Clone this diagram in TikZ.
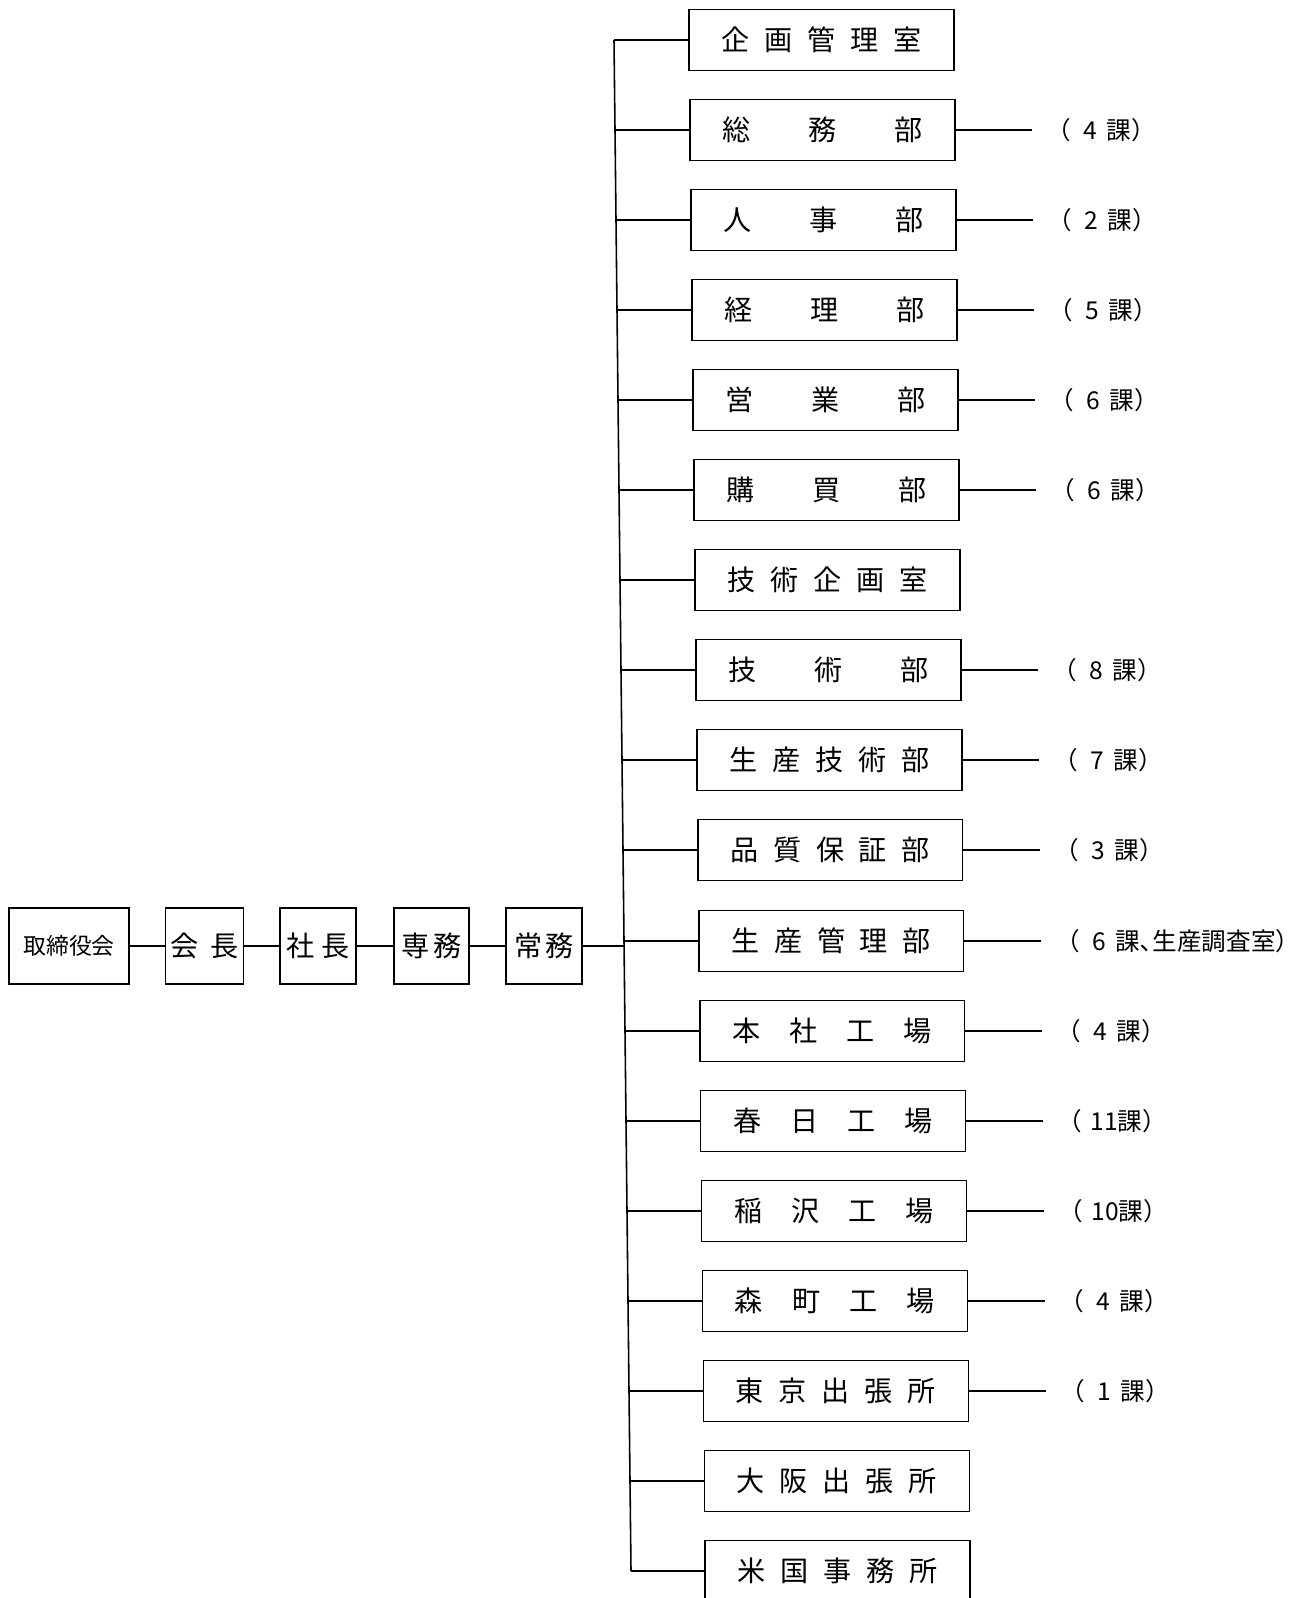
\documentclass[tikz,border=0pt]{standalone}
\usepackage{fontspec}
\setmainfont{Noto Sans CJK JP}
\newcommand{\spread}[1]{\makebox[4cm][s]{#1}}
\newcommand{\ka}[1]{（\hspace{.5em}#1\hspace{.4em}課）}

\begin{document}
\begin{tikzpicture}[x=0.02cm, y=-0.02cm,
    dept/.style={draw, line width=1pt, minimum width=5.3cm, minimum height=1.22cm, inner sep=0pt, font=\fontsize{16}{18}\selectfont},
    post/.style={draw, line width=1pt, minimum height=1.53cm, inner sep=0pt, font=\fontsize{16}{18}\selectfont},
    tag/.style={anchor=west, inner xsep=8pt, inner ysep=0pt, font=\fontsize{14}{16}\selectfont},
    link/.style={line width=0.9pt}]
    \useasboundingbox (0,0) rectangle (1308,1598);

    % Top management (left)
    \node[post, minimum width=2.4cm, font=\fontsize{13}{15}\selectfont] (board) at (69,946) {取締役会};
    \node[post, minimum width=1.56cm] (kaicho) at (204.5,946) {会\hspace{.4em}長};
    \node[post, minimum width=1.52cm] (shacho) at (318,946) {社\hspace{.25em}長};
    \node[post, minimum width=1.5cm] (senmu) at (431.5,946) {専\hspace{.15em}務};
    \node[post, minimum width=1.52cm] (jomu) at (544,946) {常\hspace{.1em}務};
    \draw[link] (board) -- (kaicho);
    \draw[link] (kaicho) -- (shacho);
    \draw[link] (shacho) -- (senmu);
    \draw[link] (senmu) -- (jomu);

    % Trunk
    \coordinate (t0) at (614,40);
    \coordinate (t1) at (615,130);
    \coordinate (t2) at (616,220);
    \coordinate (t3) at (617,310);
    \coordinate (t4) at (618,400);
    \coordinate (t5) at (619,490);
    \coordinate (t6) at (620,580);
    \coordinate (t7) at (621,670);
    \coordinate (t8) at (622,760);
    \coordinate (t9) at (623,850);
    \coordinate (t10) at (624,941);
    \coordinate (t11) at (625,1031);
    \coordinate (t12) at (626,1121);
    \coordinate (t13) at (627,1211);
    \coordinate (t14) at (628,1301);
    \coordinate (t15) at (629,1391);
    \coordinate (t16) at (630,1481);
    \coordinate (t17) at (631,1571);
    \coordinate (tj) at (624,946);
    \draw[link] (t0) -- (t17);
    \draw[link] (jomu) -- (tj);

    % Departments (right)
    \node[dept] (kikaku) at (821.5,40) {\spread{企 画 管 理 室}};
    \node[dept] (somu) at (822.5,130) {\spread{総 務 部}};
    \node[dept] (jinji) at (823.4,220) {\spread{人 事 部}};
    \node[dept] (keiri) at (824.4,310) {\spread{経 理 部}};
    \node[dept] (eigyo) at (825.3,400) {\spread{営 業 部}};
    \node[dept] (kobai) at (826.3,490) {\spread{購 買 部}};
    \node[dept] (gikika) at (827.3,580) {\spread{技 術 企 画 室}};
    \node[dept] (gijutsu) at (828.2,670) {\spread{技 術 部}};
    \node[dept] (seigi) at (829.2,760) {\spread{生 産 技 術 部}};
    \node[dept] (hinsho) at (830.1,850) {\spread{品 質 保 証 部}};
    \node[dept] (seikan) at (831.1,941) {\spread{生 産 管 理 部}};
    \node[dept] (honsha) at (832.1,1031) {\spread{本 社 工 場}};
    \node[dept] (kasuga) at (833,1121) {\spread{春 日 工 場}};
    \node[dept] (inazawa) at (834,1211) {\spread{稲 沢 工 場}};
    \node[dept] (morimachi) at (834.9,1301) {\spread{森 町 工 場}};
    \node[dept] (tokyo) at (835.9,1391) {\spread{東 京 出 張 所}};
    \node[dept] (osaka) at (836.9,1481) {\spread{大 阪 出 張 所}};
    \node[dept] (beikoku) at (837.8,1571) {\spread{米 国 事 務 所}};

    \draw[link] (t0) -- (kikaku);
    \draw[link] (t1) -- (somu);
    \draw[link] (t2) -- (jinji);
    \draw[link] (t3) -- (keiri);
    \draw[link] (t4) -- (eigyo);
    \draw[link] (t5) -- (kobai);
    \draw[link] (t6) -- (gikika);
    \draw[link] (t7) -- (gijutsu);
    \draw[link] (t8) -- (seigi);
    \draw[link] (t9) -- (hinsho);
    \draw[link] (t10) -- (seikan);
    \draw[link] (t11) -- (honsha);
    \draw[link] (t12) -- (kasuga);
    \draw[link] (t13) -- (inazawa);
    \draw[link] (t14) -- (morimachi);
    \draw[link] (t15) -- (tokyo);
    \draw[link] (t16) -- (osaka);
    \draw[link] (t17) -- (beikoku);

    % Sections
    \node[tag] (somu-k) at (1032,130) {\ka{4}};
    \node[tag] (jinji-k) at (1033,220) {\ka{2}};
    \node[tag] (keiri-k) at (1034,310) {\ka{5}};
    \node[tag] (eigyo-k) at (1035,400) {\ka{6}};
    \node[tag] (kobai-k) at (1036,490) {\ka{6}};
    \node[tag] (gijutsu-k) at (1038,670) {\ka{8}};
    \node[tag] (seigi-k) at (1039,760) {\ka{7}};
    \node[tag] (hinsho-k) at (1040,850) {\ka{3}};
    \node[tag] (seikan-k) at (1041,941) {（\hspace{.5em}6\hspace{.4em}課､生産調査室）};
    \node[tag] (honsha-k) at (1042,1031) {\ka{4}};
    \node[tag] (kasuga-k) at (1043,1121) {（\hspace{.35em}11課）};
    \node[tag] (inazawa-k) at (1044,1211) {（\hspace{.35em}10課）};
    \node[tag] (morimachi-k) at (1045,1301) {\ka{4}};
    \node[tag] (tokyo-k) at (1046,1391) {\ka{1}};

    \draw[link] (somu) -- (somu-k);
    \draw[link] (jinji) -- (jinji-k);
    \draw[link] (keiri) -- (keiri-k);
    \draw[link] (eigyo) -- (eigyo-k);
    \draw[link] (kobai) -- (kobai-k);
    \draw[link] (gijutsu) -- (gijutsu-k);
    \draw[link] (seigi) -- (seigi-k);
    \draw[link] (hinsho) -- (hinsho-k);
    \draw[link] (seikan) -- (seikan-k);
    \draw[link] (honsha) -- (honsha-k);
    \draw[link] (kasuga) -- (kasuga-k);
    \draw[link] (inazawa) -- (inazawa-k);
    \draw[link] (morimachi) -- (morimachi-k);
    \draw[link] (tokyo) -- (tokyo-k);
\end{tikzpicture}
\end{document}
